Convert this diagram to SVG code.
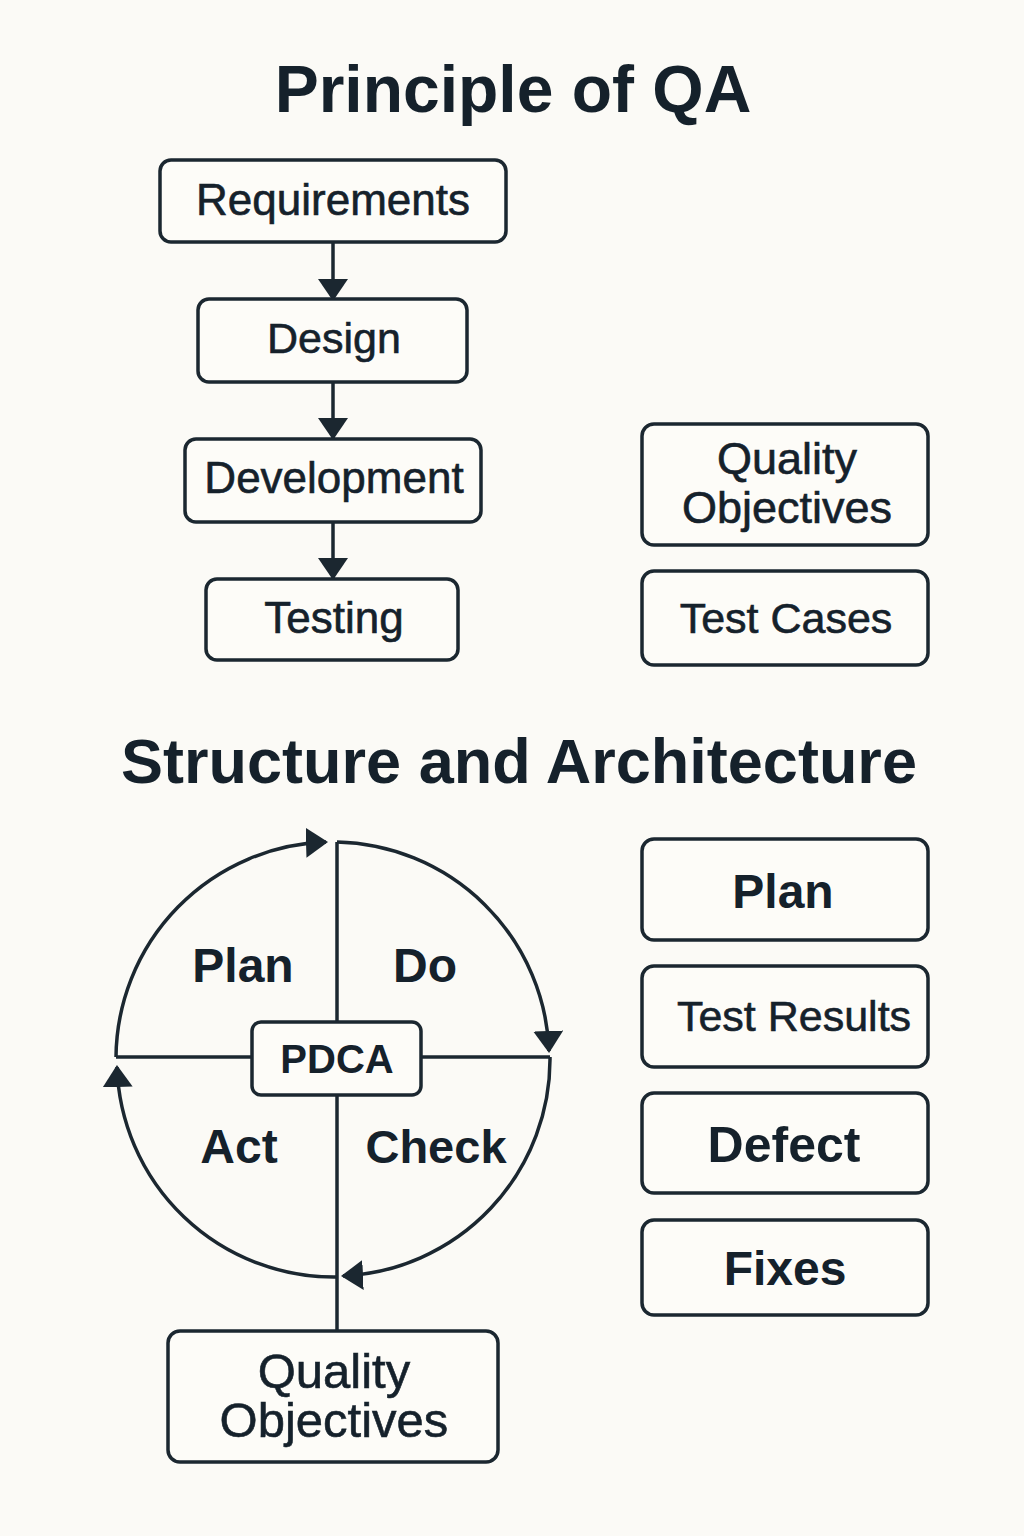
<svg xmlns="http://www.w3.org/2000/svg" width="1024" height="1536" viewBox="0 0 1024 1536">
  <defs>
    <marker id="arrow" markerUnits="userSpaceOnUse" viewBox="0 0 22 30" refX="20" refY="15" markerWidth="22" markerHeight="30" orient="auto">
      <path d="M0,0 L22,15 L0,30 z" fill="#1b2730"/>
    </marker>
    <style>
      .box { fill: #fdfcf8; stroke: #1b2730; stroke-width: 3.5; }
      .line { fill: none; stroke: #1b2730; stroke-width: 3.5; }
      .arr { fill: none; stroke: #1b2730; stroke-width: 3.5; marker-end: url(#arrow); }
      text { font-family: "Liberation Sans", Arial, sans-serif; fill: #15212b; text-anchor: middle; }
      .reg { font-weight: 400; stroke: #15212b; stroke-width: 0.6; }
      .bold { font-weight: 700; }
    </style>
  </defs>
  <rect x="0" y="0" width="1024" height="1536" fill="#fbfaf6"/>

  <text class="bold" x="513" y="112" font-size="66">Principle of QA</text>
  <text class="bold" x="519" y="783" font-size="63">Structure and Architecture</text>

  <g id="connectors">
    <line class="arr" x1="333" y1="242" x2="333" y2="299"/>
    <line class="arr" x1="333" y1="382" x2="333" y2="438"/>
    <line class="arr" x1="333" y1="522" x2="333" y2="578"/>
    <!-- PDCA cycle -->
    <path class="arr" d="M116,1057 A217,217 0 0 1 326,842"/>
    <path class="arr" d="M337,842 A217,217 0 0 1 549,1051"/>
    <path class="arr" d="M550,1057 A217,217 0 0 1 343,1276"/>
    <path class="arr" d="M337,1277 A217,217 0 0 1 117,1067"/>
    <line class="line" x1="337" y1="842" x2="337" y2="1022"/>
    <line class="line" x1="337" y1="1095" x2="337" y2="1331"/>
    <line class="line" x1="116" y1="1057" x2="252" y2="1057"/>
    <line class="line" x1="421" y1="1057" x2="550" y2="1057"/>
  </g>

  <g id="requirements">
    <rect class="box" x="160" y="160" width="346" height="82" rx="11"/>
    <text class="reg" x="333" y="215" font-size="44">Requirements</text>
  </g>
  <g id="design">
    <rect class="box" x="198" y="299" width="269" height="83" rx="11"/>
    <text class="reg" x="334" y="353" font-size="43">Design</text>
  </g>
  <g id="development">
    <rect class="box" x="185" y="439" width="296" height="83" rx="11"/>
    <text class="reg" x="334" y="493" font-size="44">Development</text>
  </g>
  <g id="testing">
    <rect class="box" x="206" y="579" width="252" height="81" rx="11"/>
    <text class="reg" x="334" y="633" font-size="44">Testing</text>
  </g>

  <g id="quality-objectives-top">
    <rect class="box" x="642" y="424" width="286" height="121" rx="12"/>
    <text class="reg" x="787" y="474" font-size="45">Quality</text>
    <text class="reg" x="787" y="523" font-size="45">Objectives</text>
  </g>
  <g id="test-cases">
    <rect class="box" x="642" y="571" width="286" height="94" rx="12"/>
    <text class="reg" x="786" y="633" font-size="43">Test Cases</text>
  </g>

  <g id="pdca-plan">
    <text class="bold" x="243" y="982" font-size="48">Plan</text>
  </g>
  <g id="pdca-do">
    <text class="bold" x="425" y="982" font-size="48">Do</text>
  </g>
  <g id="pdca-act">
    <text class="bold" x="239" y="1163" font-size="48">Act</text>
  </g>
  <g id="pdca-check">
    <text class="bold" x="436" y="1163" font-size="47">Check</text>
  </g>
  <g id="pdca">
    <rect class="box" x="252" y="1022" width="169" height="73" rx="9"/>
    <text class="bold" x="337" y="1073" font-size="40">PDCA</text>
  </g>

  <g id="quality-objectives-bottom">
    <rect class="box" x="168" y="1331" width="330" height="131" rx="12"/>
    <text class="reg" x="334" y="1388" font-size="49">Quality</text>
    <text class="reg" x="334" y="1437" font-size="49">Objectives</text>
  </g>

  <g id="plan">
    <rect class="box" x="642" y="839" width="286" height="101" rx="12"/>
    <text class="bold" x="783" y="908" font-size="48">Plan</text>
  </g>
  <g id="test-results">
    <rect class="box" x="642" y="966" width="286" height="101" rx="12"/>
    <text class="reg" x="794" y="1031" font-size="43">Test Results</text>
  </g>
  <g id="defect">
    <rect class="box" x="642" y="1093" width="286" height="100" rx="12"/>
    <text class="bold" x="784" y="1162" font-size="50">Defect</text>
  </g>
  <g id="fixes">
    <rect class="box" x="642" y="1220" width="286" height="95" rx="12"/>
    <text class="bold" x="785" y="1285" font-size="48">Fixes</text>
  </g>
</svg>
